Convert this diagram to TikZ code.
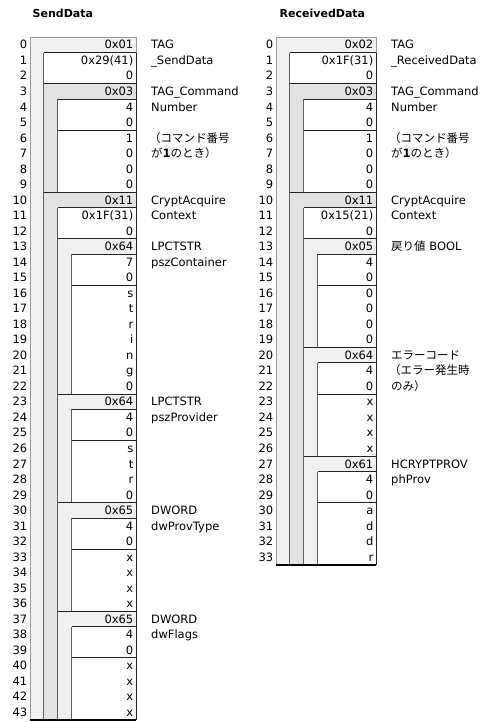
\documentclass[tikz,border=0pt]{standalone}
\usepackage{fontspec}
\setmainfont{DejaVu Sans}
\newfontfamily\cjk{Noto Sans CJK JP}
\definecolor{fillA}{HTML}{F0F0F0}
\definecolor{fillB}{HTML}{E3E3E3}
\definecolor{edgegray}{HTML}{9A9A9A}
\definecolor{vgray}{HTML}{606060}
\definecolor{hdark}{HTML}{222222}
\newcommand\ry[1]{37+15.52*(#1)}
\def\xLa{30}\def\xLb{43.5}\def\xLc{57.8}\def\xLd{71.8}\def\xLr{136}
\def\xRa{276.3}\def\xRb{289.8}\def\xRc{303.5}\def\xRd{317.5}\def\xRr{376}
\newcommand\blkfill[6]{%
  \fill[#6] (#1,{\ry{#4}}) rectangle (#3,{\ry{#4+1}});
  \fill[#6] (#1,{\ry{#4}}) rectangle (#2,{\ry{#5+1}});}
\newcommand\blklines[6]{% #6: 1 = draw top line
  \ifnum#6=1 \draw[hline] (#1,{\ry{#4}}) -- (#3,{\ry{#4}});\fi
  \draw[vline] (#2,{\ry{#4+1}}) -- (#2,{\ry{#5+1}});
  \draw[hline] (#2,{\ry{#4+1}}) -- (#3,{\ry{#4+1}});
  \draw[hline] (#2,{\ry{#4+3}}) -- (#3,{\ry{#4+3}});}
\tikzset{
  hline/.style={draw=hdark, line width=0.9pt},
  vline/.style={draw=vgray, line width=0.9pt},
  outline/.style={draw=edgegray, line width=0.9pt},
  botline/.style={draw=black, line width=1.8pt},
  txt/.style={inner sep=0pt, font=\fontsize{11.5}{13}\selectfont},
  val/.style={txt, anchor=base east},
  num/.style={txt, anchor=base east},
  lab/.style={txt, anchor=base west},
  ttl/.style={inner sep=0pt, anchor=base west, font=\fontsize{11}{13}\selectfont\bfseries},
}
\begin{document}
\begin{tikzpicture}[x=1pt,y=-1pt]
\useasboundingbox (0,0) rectangle (486,722);
% ---------------- titles
\node[ttl] (tL) at (32.5,18) {SendData};
\node[ttl] (tR) at (279.5,18) {ReceivedData};
% ---------------- left fills
\fill[fillA] (\xLa,{\ry{0}}) rectangle (\xLr,{\ry{44}});
\fill[white] (\xLb,{\ry{1}}) rectangle (\xLr,{\ry{44}});
\blkfill{\xLb}{\xLc}{\xLr}{3}{9}{fillB}
\blkfill{\xLb}{\xLc}{\xLr}{10}{43}{fillB}
\blkfill{\xLc}{\xLd}{\xLr}{13}{22}{fillA}
\blkfill{\xLc}{\xLd}{\xLr}{23}{29}{fillA}
\blkfill{\xLc}{\xLd}{\xLr}{30}{36}{fillA}
\blkfill{\xLc}{\xLd}{\xLr}{37}{43}{fillA}
% ---------------- right fills
\fill[fillA] (\xRa,{\ry{0}}) rectangle (\xRr,{\ry{34}});
\fill[white] (\xRb,{\ry{1}}) rectangle (\xRr,{\ry{34}});
\blkfill{\xRb}{\xRc}{\xRr}{3}{9}{fillB}
\blkfill{\xRb}{\xRc}{\xRr}{10}{33}{fillB}
\blkfill{\xRc}{\xRd}{\xRr}{13}{19}{fillA}
\blkfill{\xRc}{\xRd}{\xRr}{20}{26}{fillA}
\blkfill{\xRc}{\xRd}{\xRr}{27}{33}{fillA}
% ---------------- left lines
\draw[outline] (\xLa,{\ry{44}}) -- (\xLa,{\ry{0}}) -- (\xLr,{\ry{0}}) -- (\xLr,{\ry{1}});
\draw[hline] (\xLr,{\ry{1}}) -- (\xLr,{\ry{44}});
\blklines{\xLa}{\xLb}{\xLr}{0}{43}{0}
\blklines{\xLb}{\xLc}{\xLr}{3}{9}{1}
\blklines{\xLb}{\xLc}{\xLr}{10}{43}{1}
\blklines{\xLc}{\xLd}{\xLr}{13}{22}{1}
\blklines{\xLc}{\xLd}{\xLr}{23}{29}{1}
\blklines{\xLc}{\xLd}{\xLr}{30}{36}{1}
\blklines{\xLc}{\xLd}{\xLr}{37}{43}{1}
\draw[botline] (\xLa,{\ry{44}}) -- (\xLr,{\ry{44}});
% ---------------- right lines
\draw[outline] (\xRa,{\ry{34}}) -- (\xRa,{\ry{0}}) -- (\xRr,{\ry{0}}) -- (\xRr,{\ry{1}});
\draw[hline] (\xRr,{\ry{1}}) -- (\xRr,{\ry{34}});
\blklines{\xRa}{\xRb}{\xRr}{0}{33}{0}
\blklines{\xRb}{\xRc}{\xRr}{3}{9}{1}
\blklines{\xRb}{\xRc}{\xRr}{10}{33}{1}
\blklines{\xRc}{\xRd}{\xRr}{13}{19}{1}
\blklines{\xRc}{\xRd}{\xRr}{20}{26}{1}
\blklines{\xRc}{\xRd}{\xRr}{27}{33}{1}
\draw[botline] (\xRa,{\ry{34}}) -- (\xRr,{\ry{34}});
% ---------------- row numbers
\foreach \i in {0,...,43}
  \node[num] (Ln\i) at (27.5,{\ry{\i+0.5}+4.2}) {\i};
\foreach \i in {0,...,33}
  \node[num] (Rn\i) at (273.5,{\ry{\i+0.5}+4.2}) {\i};
% ---------------- values
\foreach \i/\v in {0/0x01,1/{0x29(41)},2/0,3/0x03,4/4,5/0,6/1,7/0,8/0,9/0,10/0x11,11/{0x1F(31)},12/0,13/0x64,14/7,15/0,16/s,17/t,18/r,19/i,20/n,21/g,22/0,23/0x64,24/4,25/0,26/s,27/t,28/r,29/0,30/0x65,31/4,32/0,33/x,34/x,35/x,36/x,37/0x65,38/4,39/0,40/x,41/x,42/x,43/x}
  \node[val] (Lv\i) at ({\xLr-2.5},{\ry{\i+0.5}+4.2}) {\v};
\foreach \i/\v in {0/0x02,1/{0x1F(31)},2/0,3/0x03,4/4,5/0,6/1,7/0,8/0,9/0,10/0x11,11/{0x15(21)},12/0,13/0x05,14/4,15/0,16/0,17/0,18/0,19/0,20/0x64,21/4,22/0,23/x,24/x,25/x,26/x,27/0x61,28/4,29/0,30/a,31/d,32/d,33/r}
  \node[val] (Rv\i) at ({\xRr-2.5},{\ry{\i+0.5}+4.2}) {\v};
% ---------------- left labels
\node[lab] (Ll0) at (151,{\ry{0.5}+4.2}) {TAG};
\node[lab] (Ll1) at (151,{\ry{1.5}+4.2}) {\_SendData};
\node[lab] (Ll3) at (151,{\ry{3.5}+4.2}) {TAG\_Command};
\node[lab] (Ll4) at (151,{\ry{4.5}+4.2}) {Number};
\node[lab] (Ll6) at (149,{\ry{6.5}+4.2}) {\cjk （コマンド番号};
\node[lab] (Ll7) at (151,{\ry{7.5}+4.2}) {{\cjk が}\textbf{1}{\cjk のとき）}};
\node[lab] (Ll10) at (151,{\ry{10.5}+4.2}) {CryptAcquire};
\node[lab] (Ll11) at (151,{\ry{11.5}+4.2}) {Context};
\node[lab] (Ll13) at (151,{\ry{13.5}+4.2}) {LPCTSTR};
\node[lab] (Ll14) at (151,{\ry{14.5}+4.2}) {pszContainer};
\node[lab] (Ll23) at (151,{\ry{23.5}+4.2}) {LPCTSTR};
\node[lab] (Ll24) at (151,{\ry{24.5}+4.2}) {pszProvider};
\node[lab] (Ll30) at (151,{\ry{30.5}+4.2}) {DWORD};
\node[lab] (Ll31) at (151,{\ry{31.5}+4.2}) {dwProvType};
\node[lab] (Ll37) at (151,{\ry{37.5}+4.2}) {DWORD};
\node[lab] (Ll38) at (151,{\ry{38.5}+4.2}) {dwFlags};
% ---------------- right labels
\node[lab] (Rl0) at (391,{\ry{0.5}+4.2}) {TAG};
\node[lab] (Rl1) at (391,{\ry{1.5}+4.2}) {\_ReceivedData};
\node[lab] (Rl3) at (391,{\ry{3.5}+4.2}) {TAG\_Command};
\node[lab] (Rl4) at (391,{\ry{4.5}+4.2}) {Number};
\node[lab] (Rl6) at (389,{\ry{6.5}+4.2}) {\cjk （コマンド番号};
\node[lab] (Rl7) at (391,{\ry{7.5}+4.2}) {{\cjk が}\textbf{1}{\cjk のとき）}};
\node[lab] (Rl10) at (391,{\ry{10.5}+4.2}) {CryptAcquire};
\node[lab] (Rl11) at (391,{\ry{11.5}+4.2}) {Context};
\node[lab] (Rl13) at (391,{\ry{13.5}+4.2}) {{\cjk 戻り値} BOOL};
\node[lab] (Rl20) at (391,{\ry{20.5}+4.2}) {\cjk エラーコード};
\node[lab] (Rl21) at (389,{\ry{21.5}+4.2}) {\cjk （エラー発生時};
\node[lab] (Rl22) at (391,{\ry{22.5}+4.2}) {\cjk のみ）};
\node[lab] (Rl27) at (391,{\ry{27.5}+4.2}) {HCRYPTPROV};
\node[lab] (Rl28) at (391,{\ry{28.5}+4.2}) {phProv};
\end{tikzpicture}
\end{document}
